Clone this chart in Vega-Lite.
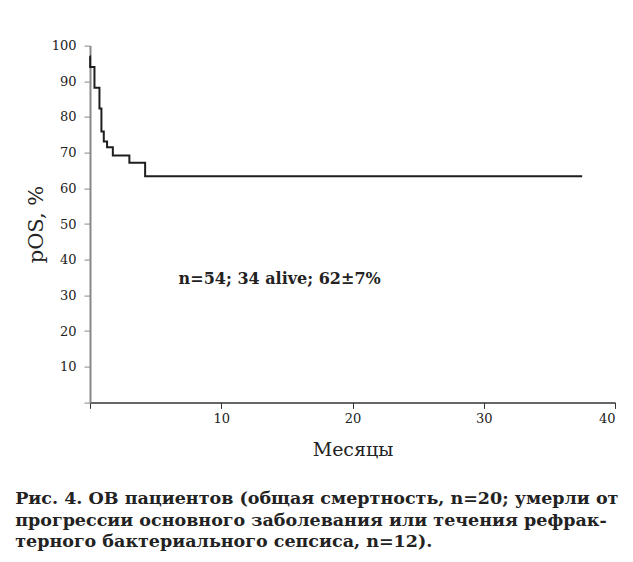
{
  "$schema": "https://vega.github.io/schema/vega-lite/v6.json",
  "autosize": {"type": "none"},
  "width": 525,
  "height": 356.8,
  "padding": {"left": 90, "top": 45.6, "right": 18, "bottom": 159.6},
  "background": "white",
  "config": {
    "view": {"stroke": null},
    "font": "DejaVu Serif",
    "axis": {"grid": false, "labelFont": "DejaVu Serif", "titleFont": "DejaVu Serif", "labelColor": "#222", "titleColor": "#222", "labelFontSize": 13, "titleFontWeight": "normal", "tickSize": 6, "labelOverlap": false}
  },
  "title": {
    "text": ["Рис. 4. ОВ пациентов (общая смертность, n=20; умерли от", "прогрессии основного заболевания или течения рефрак-", "терного бактериального сепсиса, n=12)."],
    "orient": "bottom",
    "anchor": "start",
    "frame": "bounds",
    "font": "DejaVu Serif",
    "fontSize": 17.5,
    "fontWeight": "bold",
    "color": "#222",
    "lineHeight": 21.5,
    "offset": 31,
    "dx": -10
  },
  "datasets": {
    "km": [
      {"t": 0, "s": 97},
      {"t": 0.01, "s": 94},
      {"t": 0.34, "s": 88.2},
      {"t": 0.72, "s": 82.4},
      {"t": 0.87, "s": 75.9},
      {"t": 1.05, "s": 73.1},
      {"t": 1.3, "s": 71.5},
      {"t": 1.74, "s": 69.2},
      {"t": 3.0, "s": 67.2},
      {"t": 4.2, "s": 63.4},
      {"t": 37.5, "s": 63.4}
    ],
    "note": [{"t": 14.45, "s": 34.6, "label": "n=54; 34 alive; 62±7%"}]
  },
  "encoding": {
    "x": {"field": "t", "type": "quantitative", "scale": {"domain": [0, 40], "nice": false},
      "axis": {"title": "Месяцы", "titleFontSize": 19, "titlePadding": 15, "values": [0, 10, 20, 30, 40], "labelExpr": "datum.value == 0 ? '' : datum.label", "domainColor": "#333", "tickColor": "#333", "labelPadding": 4, "domainWidth": 1.5}},
    "y": {"field": "s", "type": "quantitative", "scale": {"domain": [0, 100], "nice": false},
      "axis": {"title": "pOS, %", "titleFontSize": 21, "titlePadding": 5, "values": [0, 10, 20, 30, 40, 50, 60, 70, 80, 90, 100], "labelExpr": "datum.value == 0 ? '' : datum.label", "labelOverlap": false, "domainColor": "#888", "tickColor": "#888", "labelPadding": 8, "domainWidth": 2}}
  },
  "layer": [
    {
      "data": {"name": "km"},
      "mark": {"type": "line", "interpolate": "step-after", "color": "#1e1e1e", "strokeWidth": 2}
    },
    {
      "data": {"name": "note"},
      "mark": {"type": "text", "fontWeight": "bold", "fontSize": 16, "font": "DejaVu Serif", "color": "#222", "align": "center", "baseline": "middle"},
      "encoding": {
        "text": {"field": "label"}
      }
    }
  ]
}
